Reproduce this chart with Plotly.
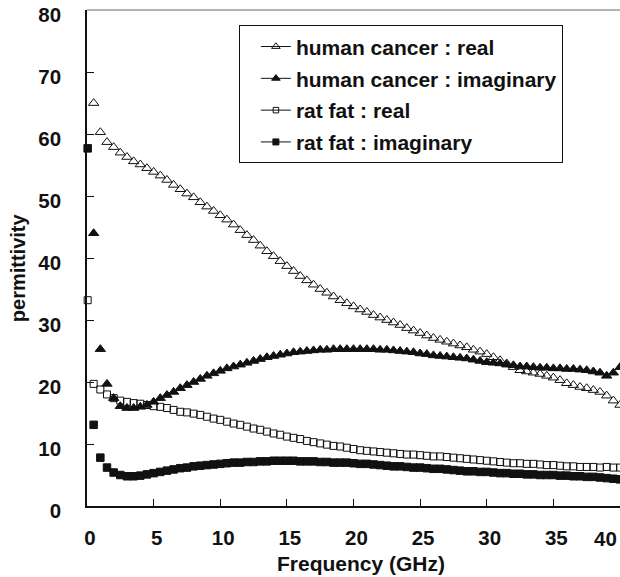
import plotly.graph_objects as go

# ---------------- data ----------------
freq_human = [
    0.5, 1.0, 1.5, 2.0, 2.5, 3.0, 3.5, 4.0, 4.5, 5.0,
    5.5, 6.0, 6.5, 7.0, 7.5, 8.0, 8.5, 9.0, 9.5, 10.0,
    10.5, 11.0, 11.5, 12.0, 12.5, 13.0, 13.5, 14.0, 14.5, 15.0,
    15.5, 16.0, 16.5, 17.0, 17.5, 18.0, 18.5, 19.0, 19.5, 20.0,
    20.5, 21.0, 21.5, 22.0, 22.5, 23.0, 23.5, 24.0, 24.5, 25.0,
    25.5, 26.0, 26.5, 27.0, 27.5, 28.0, 28.5, 29.0, 29.5, 30.0,
    30.5, 31.0, 31.5, 32.0, 32.5, 33.0, 33.5, 34.0, 34.5, 35.0,
    35.5, 36.0, 36.5, 37.0, 37.5, 38.0, 38.5, 39.0, 39.5, 40.0,
]

human_cancer_real = [
    65.0, 60.3, 58.7, 57.9, 57.0, 56.3, 55.6, 55.1, 54.5, 53.9,
    53.3, 52.6, 51.8, 51.1, 50.4, 49.8, 49.0, 48.3, 47.6, 46.9,
    46.2, 45.4, 44.5, 43.7, 42.9, 42.0, 41.1, 40.3, 39.5, 38.7,
    37.9, 37.1, 36.4, 35.7, 35.0, 34.4, 33.8, 33.2, 32.7, 32.2,
    31.7, 31.3, 30.8, 30.4, 30.0, 29.6, 29.2, 28.7, 28.3, 27.9,
    27.5, 27.1, 26.8, 26.5, 26.2, 25.9, 25.6, 25.2, 24.9, 24.5,
    24.0, 23.5, 23.0, 22.4, 21.9, 21.7, 21.5, 21.3, 21.0, 20.7,
    20.3, 19.8, 19.5, 19.2, 19.0, 18.7, 18.4, 17.8, 17.0, 16.3,
]

human_cancer_imag = [
    44.0, 25.3, 19.7, 17.4, 16.1, 15.8, 15.8, 16.0, 16.3, 16.8,
    17.4, 17.9, 18.4, 19.0, 19.5, 20.0, 20.5, 21.0, 21.4, 21.8,
    22.2, 22.5, 22.8, 23.1, 23.4, 23.7, 24.0, 24.2, 24.4, 24.6,
    24.8, 24.9, 25.0, 25.1, 25.2, 25.2, 25.3, 25.3, 25.3, 25.3,
    25.3, 25.3, 25.3, 25.2, 25.2, 25.1, 25.0, 24.9, 24.8, 24.6,
    24.5, 24.3, 24.2, 24.1, 24.0, 23.9, 23.8, 23.6, 23.4, 23.2,
    23.1, 23.0, 22.8, 22.7, 22.5, 22.5, 22.4, 22.3, 22.3, 22.2,
    22.2, 22.1, 22.1, 22.0, 21.9, 21.7, 21.5, 21.0, 21.5, 22.4,
]

freq_rat = [
    0.05,
    0.5, 1.0, 1.5, 2.0, 2.5, 3.0, 3.5, 4.0, 4.5, 5.0,
    5.5, 6.0, 6.5, 7.0, 7.5, 8.0, 8.5, 9.0, 9.5, 10.0,
    10.5, 11.0, 11.5, 12.0, 12.5, 13.0, 13.5, 14.0, 14.5, 15.0,
    15.5, 16.0, 16.5, 17.0, 17.5, 18.0, 18.5, 19.0, 19.5, 20.0,
    20.5, 21.0, 21.5, 22.0, 22.5, 23.0, 23.5, 24.0, 24.5, 25.0,
    25.5, 26.0, 26.5, 27.0, 27.5, 28.0, 28.5, 29.0, 29.5, 30.0,
    30.5, 31.0, 31.5, 32.0, 32.5, 33.0, 33.5, 34.0, 34.5, 35.0,
    35.5, 36.0, 36.5, 37.0, 37.5, 38.0, 38.5, 39.0, 39.5, 40.0,
]

rat_fat_real = [
    33.2,
    19.7, 18.8, 18.0, 17.4, 17.0, 16.8, 16.6, 16.5, 16.3, 16.1,
    16.0, 15.8, 15.5, 15.2, 15.1, 14.9, 14.7, 14.4, 14.1, 13.9,
    13.6, 13.3, 13.1, 12.8, 12.5, 12.3, 12.0, 11.7, 11.5, 11.2,
    11.0, 10.8, 10.5, 10.3, 10.1, 9.9, 9.7, 9.6, 9.4, 9.2,
    9.0, 8.9, 8.8, 8.7, 8.6, 8.5, 8.4, 8.3, 8.3, 8.2,
    8.1, 8.0, 8.0, 7.9, 7.8, 7.7, 7.6, 7.5, 7.4, 7.3,
    7.2, 7.1, 7.0, 6.9, 6.9, 6.8, 6.8, 6.7, 6.6, 6.6,
    6.5, 6.4, 6.4, 6.3, 6.3, 6.3, 6.2, 6.3, 6.2, 6.2,
]

rat_fat_imag = [
    57.7,
    13.1, 7.8, 6.2, 5.4, 5.0, 4.8, 4.8, 4.9, 5.1, 5.3,
    5.5, 5.7, 5.9, 6.1, 6.2, 6.4, 6.5, 6.6, 6.7, 6.8,
    6.9, 7.0, 7.0, 7.1, 7.1, 7.2, 7.2, 7.3, 7.3, 7.3,
    7.3, 7.2, 7.2, 7.2, 7.1, 7.1, 7.0, 7.0, 7.0, 6.9,
    6.8, 6.8, 6.7, 6.6, 6.5, 6.4, 6.4, 6.3, 6.2, 6.2,
    6.1, 6.0, 6.0, 5.9, 5.8, 5.7, 5.6, 5.6, 5.5, 5.5,
    5.4, 5.3, 5.3, 5.2, 5.2, 5.1, 5.1, 5.0, 5.0, 5.0,
    4.9, 4.9, 4.8, 4.8, 4.7, 4.7, 4.6, 4.5, 4.4, 4.3,
]

series_names = [
    "human cancer : real",
    "human cancer : imaginary",
    "rat fat : real",
    "rat fat : imaginary",
]

x_tick_vals = [0, 5, 10, 15, 20, 25, 30, 35, 40]
x_tick_text = ["0", "5", "10", "15", "20", "25", "30", "35", "40"]
y_tick_vals = [0, 10, 20, 30, 40, 50, 60, 70, 80]
y_tick_text = ["0", "10", "20", "30", "40", "50", "60", "70", "80"]

# ---------------- figure ----------------
FONT = "Liberation Sans, Arial, sans-serif"
INK = "#111111"
TICKFONT = dict(family=FONT, size=20.5, color=INK, weight="bold")

styles = [
    dict(symbol="triangle-up-open", size=9),
    dict(symbol="triangle-up", size=9),
    dict(symbol="square-open", size=7),
    dict(symbol="square", size=7.5),
]
xs = [freq_human, freq_human, freq_rat, freq_rat]
ys = [human_cancer_real, human_cancer_imag, rat_fat_real, rat_fat_imag]

fig = go.Figure()
for name, st, x, y in zip(series_names, styles, xs, ys):
    fig.add_trace(go.Scatter(
        x=x, y=y, mode="markers", name=name, showlegend=False,
        cliponaxis=False,
        marker=dict(symbol=st["symbol"], size=st["size"], color=INK,
                    line=dict(color=INK, width=1)),
    ))
# legend entries (line + marker sample, as in the reference legend)
for i, (name, st) in enumerate(zip(series_names, styles)):
    fig.add_trace(go.Scatter(
        x=[None], y=[None], mode="lines+markers", name=name,
        legendgroup="g%d" % i,
        line=dict(color=INK, width=1),
        marker=dict(symbol=st["symbol"], size=st["size"] - 1.5, color=INK,
                    line=dict(color=INK, width=1)),
    ))

# the last x tick label sits on the page edge: draw it right-aligned so it stays whole
x_tick_text_axis = x_tick_text[:-1] + [""]

fig.update_layout(
    width=620, height=577,
    margin=dict(l=87, r=0, t=10, b=71, autoexpand=False),
    paper_bgcolor="white", plot_bgcolor="white",
    font=dict(family=FONT, size=20, color=INK),
    showlegend=True,
    legend=dict(
        x=0.285, y=0.969, xanchor="left", yanchor="top",
        bgcolor="white", bordercolor=INK, borderwidth=1,
        font=dict(family=FONT, size=21, color=INK, weight="bold"),
        tracegroupgap=1.5, indentation=16,
    ),
    xaxis=dict(
        range=[0, 40], tickmode="array", tickvals=x_tick_vals,
        ticktext=x_tick_text_axis, ticks="inside", ticklen=7, tickcolor=INK,
        showline=True, linecolor=INK, linewidth=1.5, showgrid=False,
        zeroline=False, ticklabelstandoff=13, ticklabelshift=3,
        ticklabeloverflow="allow", automargin=False,
        tickfont=TICKFONT,
    ),
    yaxis=dict(
        range=[0, 80.02], tickmode="array", tickvals=y_tick_vals,
        ticktext=y_tick_text, ticks="inside", ticklen=7, tickcolor=INK,
        showline=True, linecolor=INK, linewidth=1.5, showgrid=False,
        zeroline=False, ticklabelstandoff=20, ticklabelshift=5,
        ticklabeloverflow="allow", automargin=False,
        tickfont=TICKFONT,
    ),
    shapes=[dict(type="line", xref="paper", yref="paper", x0=0, x1=1,
                 y0=1, y1=1, line=dict(color="#9a9a9a", width=1.5))],
    annotations=[
        dict(text=x_tick_text[-1], xref="x", yref="paper",
             x=x_tick_vals[-1], y=-0.066, xanchor="right", yanchor="middle",
             xshift=-1, showarrow=False, font=TICKFONT),
        dict(text="Frequency (GHz)", xref="paper", yref="paper",
             x=0.514, y=-0.115, xanchor="center", yanchor="middle",
             showarrow=False,
             font=dict(family=FONT, size=21, color=INK, weight="bold")),
        dict(text="permittivity", xref="paper", yref="paper",
             x=-0.129, y=0.48, xanchor="center", yanchor="middle",
             textangle=-90, showarrow=False,
             font=dict(family=FONT, size=20, color=INK, weight="bold")),
    ],
)

fig.write_html("out.html")
